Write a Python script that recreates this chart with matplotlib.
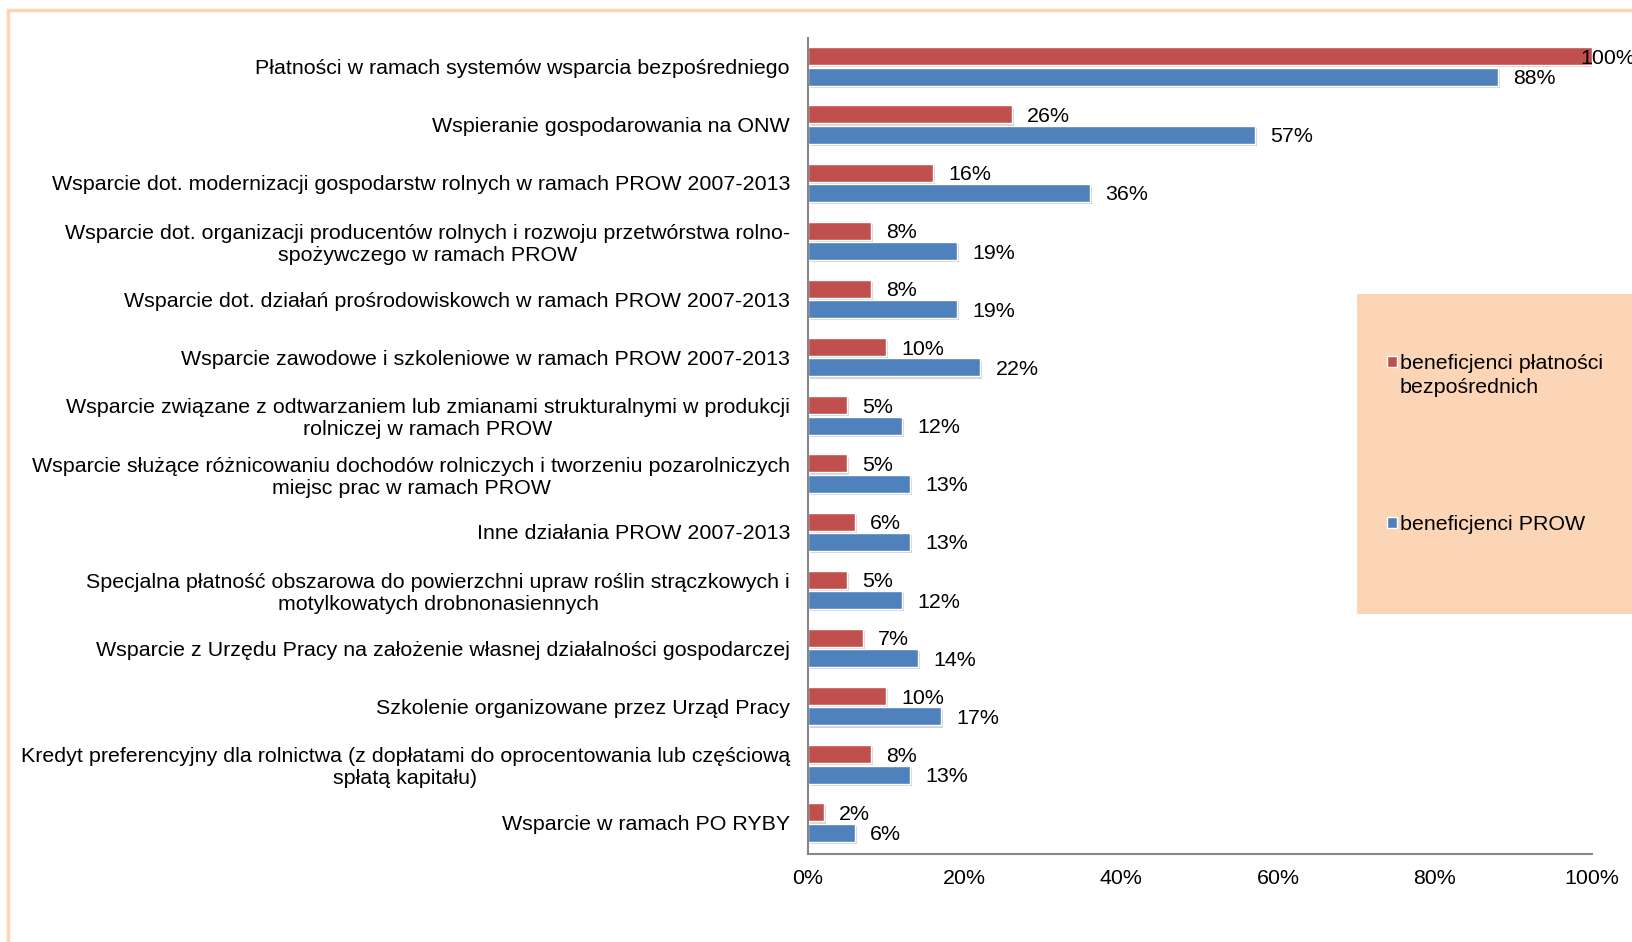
import matplotlib
matplotlib.use('Agg')
import matplotlib.pyplot as plt
from matplotlib.patches import Rectangle
import matplotlib.patheffects as pe
import numpy as np

plt.rcParams['font.family'] = ['Liberation Sans', 'DejaVu Sans']

# data
categories = [
    "Płatności w ramach systemów wsparcia bezpośredniego",
    "Wspieranie gospodarowania na ONW",
    "Wsparcie dot. modernizacji gospodarstw rolnych w ramach PROW 2007-2013",
    "Wsparcie dot. organizacji producentów rolnych i rozwoju przetwórstwa rolno-\nspożywczego w ramach PROW",
    "Wsparcie dot. działań prośrodowiskowch w ramach PROW 2007-2013",
    "Wsparcie zawodowe i szkoleniowe w ramach PROW 2007-2013",
    "Wsparcie związane z odtwarzaniem lub zmianami strukturalnymi w produkcji\nrolniczej w ramach PROW",
    "Wsparcie służące różnicowaniu dochodów rolniczych i tworzeniu pozarolniczych\nmiejsc prac w ramach PROW",
    "Inne działania PROW 2007-2013",
    "Specjalna płatność obszarowa do powierzchni upraw roślin strączkowych i\nmotylkowatych drobnonasiennych",
    "Wsparcie z Urzędu Pracy na założenie własnej działalności gospodarczej",
    "Szkolenie organizowane przez Urząd Pracy",
    "Kredyt preferencyjny dla rolnictwa (z dopłatami do oprocentowania lub częściową\nspłatą kapitału)",
    "Wsparcie w ramach PO RYBY",
]
bezposrednie = [100, 26, 16, 8, 8, 10, 5, 5, 6, 5, 7, 10, 8, 2]
prow = [88, 57, 36, 19, 19, 22, 12, 13, 13, 12, 14, 17, 13, 6]
series_names = ["beneficjenci płatności\nbezpośrednich", "beneficjenci PROW"]
x_ticks = [0, 20, 40, 60, 80, 100]

RED = '#C0504D'
BLUE = '#4F81BD'
PEACH = '#FBD5B5'
FS = 15.4

fig = plt.figure(figsize=(16.33, 9.42), dpi=100)
ax = fig.add_axes([0.4948, 0.0934, 0.4798, 0.8663])

y = np.arange(len(categories))
h = 0.31
off = 0.175
shadow = [pe.SimplePatchShadow(offset=(1.5, -1.5), shadow_rgbFace='#808080', alpha=0.35), pe.Normal()]

bars_r = ax.barh(y - off, bezposrednie, height=h, color=RED, edgecolor='white', linewidth=1)
bars_b = ax.barh(y + off, prow, height=h, color=BLUE, edgecolor='white', linewidth=1)
for b in list(bars_r) + list(bars_b):
    b.set_path_effects(shadow)

# value labels (the 100% one is pulled back so it fits, like in the original)
for yy, v in zip(y - off, bezposrednie):
    dx = -8 if v >= 99 else 11
    ax.annotate(f"{v}%", (v, yy), xytext=(dx, 0), textcoords='offset points',
                ha='left', va='center_baseline', fontsize=FS, annotation_clip=False)
for yy, v in zip(y + off, prow):
    ax.annotate(f"{v}%", (v, yy), xytext=(11, 0), textcoords='offset points',
                ha='left', va='center_baseline', fontsize=FS, annotation_clip=False)

ax.set_xlim(0, 100)
ax.set_ylim(13.54, -0.49)
ax.set_xticks(x_ticks)
ax.set_xticklabels([f"{t}%" for t in x_ticks], fontsize=FS)
ax.set_yticks(y)
ax.set_yticklabels(categories, fontsize=FS, multialignment='center')
ax.tick_params(axis='both', length=0)
ax.tick_params(axis='y', pad=13)
ax.tick_params(axis='x', pad=11)
for s in ['top', 'right']:
    ax.spines[s].set_visible(False)
for s in ['left', 'bottom']:
    ax.spines[s].set_color('#868686')
    ax.spines[s].set_linewidth(1.5)

# outer frame (only top and left edge visible)
fig.add_artist(Rectangle((8 / 1633, -0.2), 1.2, 1.2 - 10 / 942,
                         transform=fig.transFigure, fill=False,
                         edgecolor=PEACH, linewidth=2.5))

# legend box
fig.add_artist(Rectangle((1357 / 1633, 1 - 614 / 942), 276 / 1633, 320 / 942,
                         transform=fig.transFigure, facecolor=PEACH, edgecolor='none'))
leg_y = [1 - 361 / 942, 1 - 522 / 942]
for name, col, ly in zip(series_names, [RED, BLUE], leg_y):
    fig.add_artist(Rectangle((1387 / 1633, ly - 5.5 / 942), 10 / 1633, 11 / 942,
                             transform=fig.transFigure, facecolor=col,
                             edgecolor='white', linewidth=1))
    fig.text(1400 / 1633, ly + 7 / 942, name, fontsize=FS, ha='left', va='top',
             linespacing=1.32)

plt.savefig('out.png', dpi=100)
